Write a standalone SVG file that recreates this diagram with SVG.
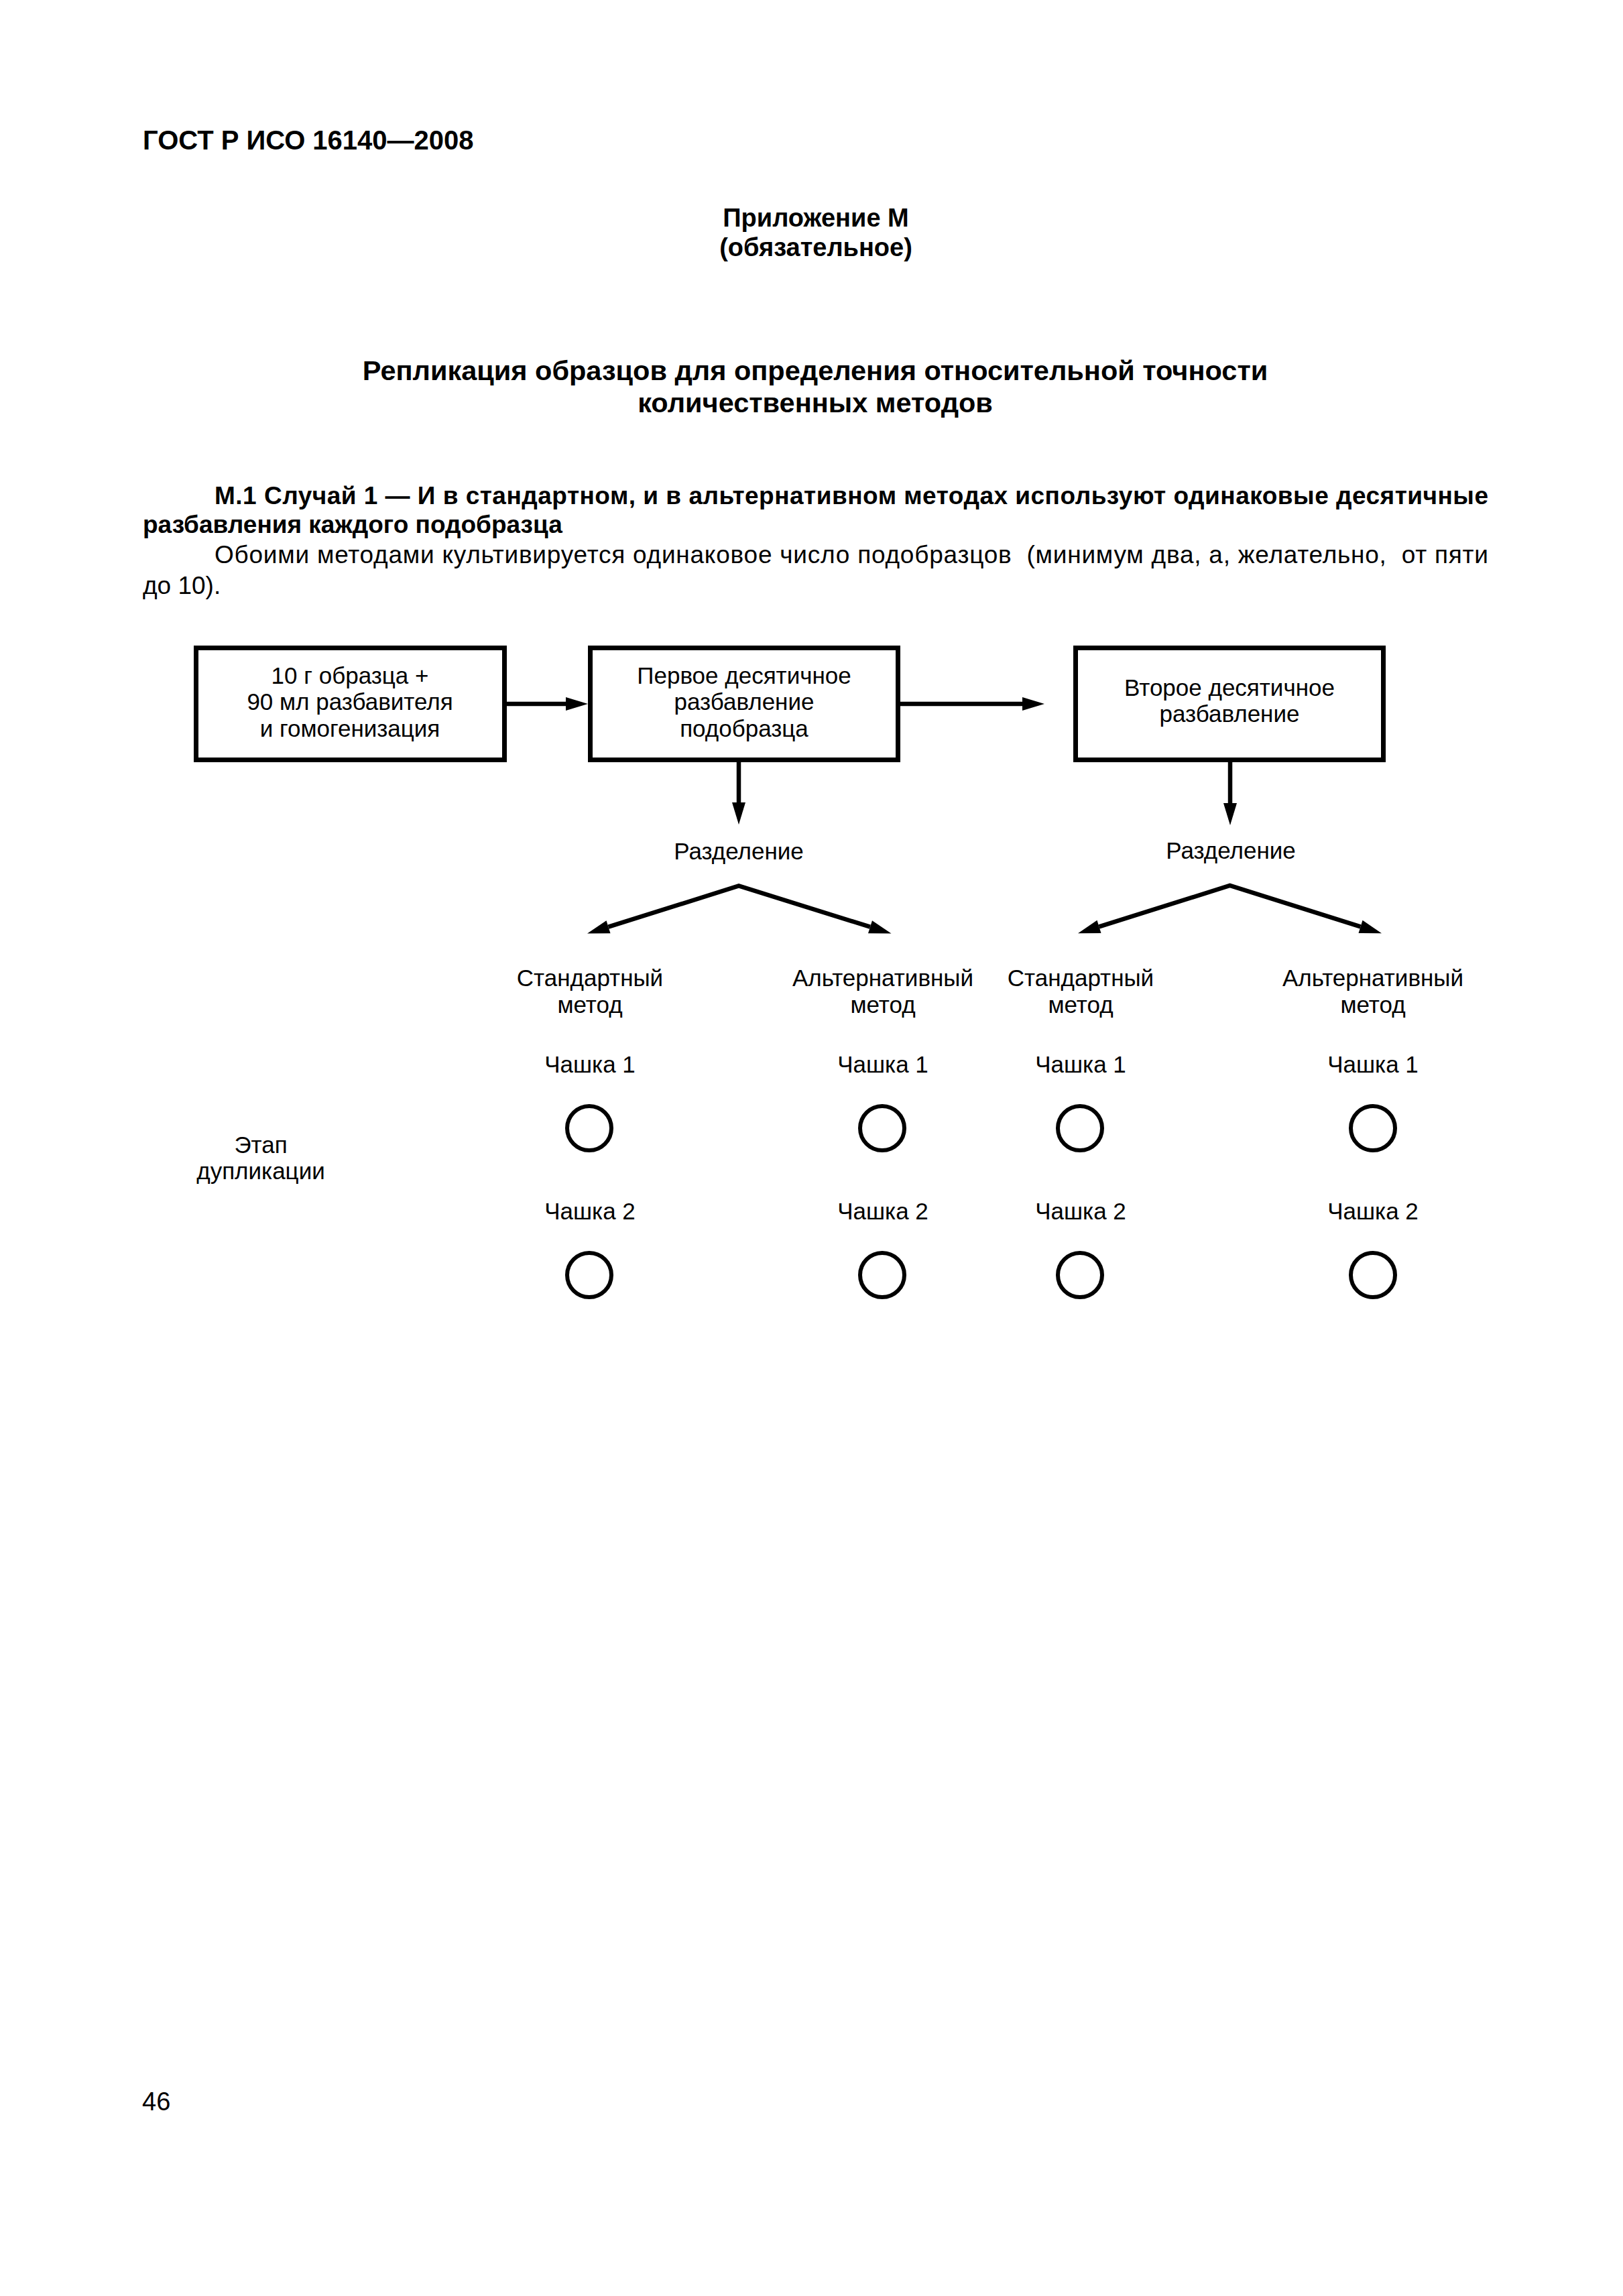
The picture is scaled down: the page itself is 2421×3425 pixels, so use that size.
<svg xmlns="http://www.w3.org/2000/svg" width="2421" height="3425" viewBox="0 0 2421 3425">
<style>
text{font-family:"Liberation Sans",Arial,sans-serif;fill:#000}
.b{font-weight:bold}
.body{font-size:37px}
.d{font-size:35px;text-anchor:middle}
.c{text-anchor:middle}
.box{fill:none;stroke:#000;stroke-width:7}
.con{fill:none;stroke:#000;stroke-width:6.5}
.cup{fill:none;stroke:#000;stroke-width:6}
</style>
<defs>
<marker id="ah" viewBox="0 -10 33 20" refX="0" refY="0" markerWidth="33" markerHeight="20" markerUnits="userSpaceOnUse" orient="auto-start-reverse" overflow="visible">
<path d="M0,-10 L33,0 L0,10 Z" fill="#000"/>
</marker>
</defs>
<rect width="2421" height="3425" fill="#fff"/>

<g id="page-text">
<text class="b" x="213" y="223" font-size="40">ГОСТ Р ИСО 16140—2008</text>
<text class="b c" x="1217" y="338" font-size="38">Приложение М</text>
<text class="b c" x="1217" y="382" font-size="38">(обязательное)</text>
<text class="b c" x="1216" y="567" font-size="41.5">Репликация образцов для определения относительной точности</text>
<text class="b c" x="1216" y="615" font-size="41.5">количественных методов</text>
<text class="b body" x="320" y="752" textLength="1900" lengthAdjust="spacing">М.1 Случай 1 — И в стандартном, и в альтернативном методах используют одинаковые десятичные</text>
<text class="b body" x="213" y="795">разбавления каждого подобразца</text>
<text class="body" x="320" y="840" textLength="1900" lengthAdjust="spacing" style="white-space:pre">Обоими методами культивируется одинаковое число подобразцов  (минимум два, а, желательно,  от пяти</text>
<text class="body" x="213" y="886">до 10).</text>
<text x="212" y="3148" font-size="38">46</text>
</g>

<g id="connectors">
<path class="con" d="M756,1050 H844" marker-end="url(#ah)"/>
<path class="con" d="M1343,1050 H1525" marker-end="url(#ah)"/>
<path class="con" d="M1102,1137 V1197" marker-end="url(#ah)"/>
<path class="con" d="M1835,1137 V1198" marker-end="url(#ah)"/>
<path class="con" d="M907.5,1382.7 L1102,1321.5 L1298,1382.7" marker-start="url(#ah)" marker-end="url(#ah)"/>
<path class="con" d="M1639.5,1382.4 L1834.6,1321 L2029.5,1382.4" marker-start="url(#ah)" marker-end="url(#ah)"/>
</g>

<g id="node-sample">
<rect class="box" x="292.5" y="966.5" width="460" height="167"/>
<text class="d" x="522" y="1020">10 г образца +</text>
<text class="d" x="522" y="1059">90 мл разбавителя</text>
<text class="d" x="522" y="1099">и гомогенизация</text>
</g>
<g id="node-first-dilution">
<rect class="box" x="880.5" y="966.5" width="459" height="167"/>
<text class="d" x="1110" y="1020">Первое десятичное</text>
<text class="d" x="1110" y="1059">разбавление</text>
<text class="d" x="1110" y="1099">подобразца</text>
</g>
<g id="node-second-dilution">
<rect class="box" x="1604.5" y="966.5" width="459" height="167"/>
<text class="d" x="1834" y="1038">Второе десятичное</text>
<text class="d" x="1834" y="1077">разбавление</text>
</g>

<g id="node-split-1"><text class="d" x="1102" y="1282">Разделение</text></g>
<g id="node-split-2"><text class="d" x="1836" y="1281">Разделение</text></g>

<g id="node-std-1">
<text class="d" x="880" y="1471">Стандартный</text>
<text class="d" x="880" y="1511">метод</text>
<text class="d" x="880" y="1600">Чашка 1</text>
<circle class="cup" cx="879" cy="1683" r="33"/>
<text class="d" x="880" y="1819">Чашка 2</text>
<circle class="cup" cx="879" cy="1902" r="33"/>
</g>
<g id="node-alt-1">
<text class="d" x="1317" y="1471">Альтернативный</text>
<text class="d" x="1317" y="1511">метод</text>
<text class="d" x="1317" y="1600">Чашка 1</text>
<circle class="cup" cx="1316" cy="1683" r="33"/>
<text class="d" x="1317" y="1819">Чашка 2</text>
<circle class="cup" cx="1316" cy="1902" r="33"/>
</g>
<g id="node-std-2">
<text class="d" x="1612" y="1471">Стандартный</text>
<text class="d" x="1612" y="1511">метод</text>
<text class="d" x="1612" y="1600">Чашка 1</text>
<circle class="cup" cx="1611" cy="1683" r="33"/>
<text class="d" x="1612" y="1819">Чашка 2</text>
<circle class="cup" cx="1611" cy="1902" r="33"/>
</g>
<g id="node-alt-2">
<text class="d" x="2048" y="1471">Альтернативный</text>
<text class="d" x="2048" y="1511">метод</text>
<text class="d" x="2048" y="1600">Чашка 1</text>
<circle class="cup" cx="2048" cy="1683" r="33"/>
<text class="d" x="2048" y="1819">Чашка 2</text>
<circle class="cup" cx="2048" cy="1902" r="33"/>
</g>
<g id="node-duplication-stage">
<text class="d" x="389" y="1720">Этап</text>
<text class="d" x="389" y="1759">дупликации</text>
</g>
</svg>
